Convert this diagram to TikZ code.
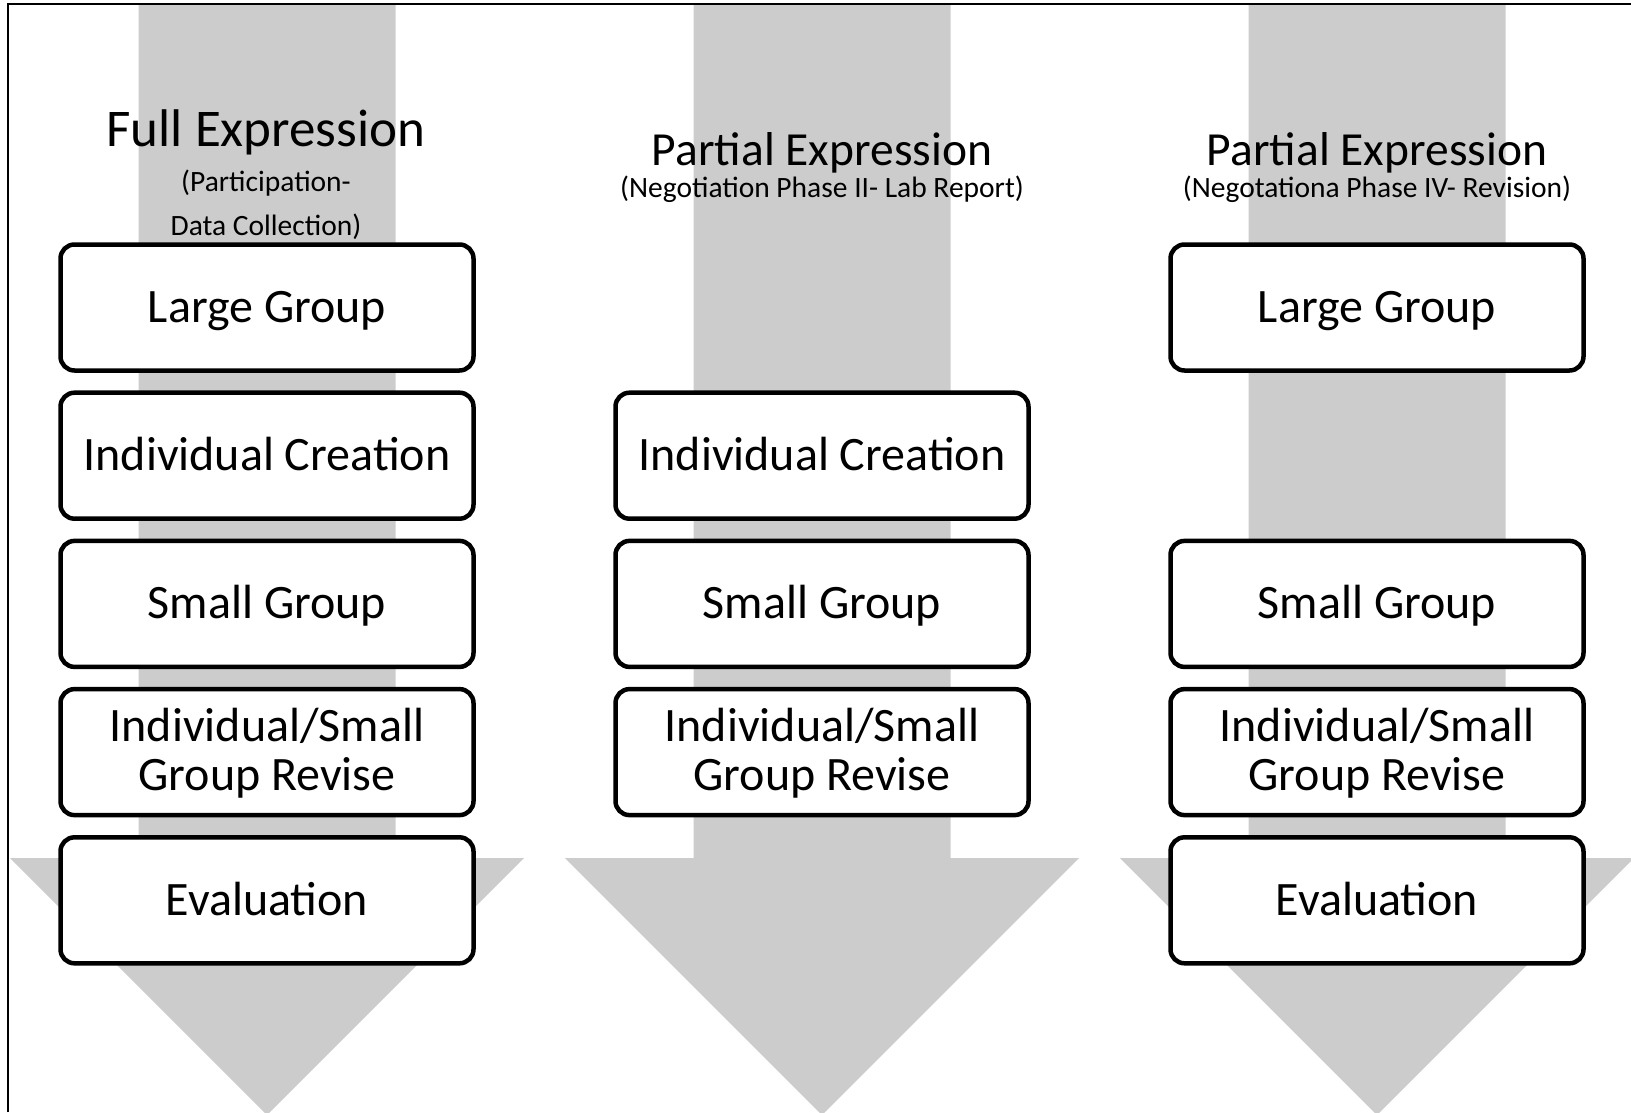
\documentclass[tikz,border=0pt]{standalone}
\usepackage{fontspec}
\setmainfont{Carlito}
\definecolor{arrowgray}{RGB}{204,204,204}
\tikzset{
  boxbase/.style={draw, line width=4.5pt, rounded corners=14pt, fill=white,
    minimum width=413pt, minimum height=126pt, inner sep=0pt,
    font=\fontsize{48}{49.5}\selectfont},
  stagebox/.style={boxbase, text height=36pt, text depth=6pt},
  stageboxtwo/.style={boxbase, text height=36pt, text depth=58pt},
  titletext/.style={anchor=base, inner sep=0pt, font=\fontsize{47.5}{56}\selectfont},
  fulltitle/.style={anchor=base, inner sep=0pt, font=\fontsize{53}{60}\selectfont},
  subtext/.style={anchor=base, inner sep=0pt, font=\fontsize{29.5}{34}\selectfont},
  bigarrow/.style={fill=arrowgray}
}
\newcommand{\twolines}[2]{\begin{tabular}[t]{@{}c@{}}#1\\#2\end{tabular}}
\begin{document}
\begin{tikzpicture}[x=1pt,y=-1pt]
\useasboundingbox (0,0) rectangle (1631,1112);
\begin{scope}
\clip (0,0) rectangle (1631,1112);
\foreach \c in {267,822,1377}{
  \fill[bigarrow] ({\c-128.5},4) -- ({\c+128.5},4) -- ({\c+128.5},858) -- ({\c+257},858)
    -- (\c,1115) -- ({\c-257},858) -- ({\c-128.5},858) -- cycle;
}
\end{scope}
\draw[line width=1.5pt] (8,1112) -- (8,4) -- (1631,4);

% titles
\node[fulltitle] (t1) at (266,146) {Full Expression};
\node[subtext] (s1a) at (266,191) {(Participation-};
\node[subtext] (s1b) at (266,235) {Data Collection)};
\node[titletext] (t2) at (822,165) {Partial Expression};
\node[subtext] (s2) at (822,197) {(Negotiation Phase II- Lab Report)};
\node[titletext] (t3) at (1377,165) {Partial Expression};
\node[subtext] (s3) at (1377,197) {(Negotationa Phase IV- Revision)};

% column 1
\node[stagebox] (a1) at (267,307.5) {Large Group};
\node[stagebox] (a2) at (267,455.7) {Individual Creation};
\node[stagebox] (a3) at (267,603.9) {Small Group};
\node[stageboxtwo] (a4) at (267,752.1) {\twolines{Individual/Small}{Group Revise}};
\node[stagebox] (a5) at (267,900.3) {Evaluation};
% column 2
\node[stagebox] (b2) at (822,455.7) {Individual Creation};
\node[stagebox] (b3) at (822,603.9) {Small Group};
\node[stageboxtwo] (b4) at (822,752.1) {\twolines{Individual/Small}{Group Revise}};
% column 3
\node[stagebox] (c1) at (1377,307.5) {Large Group};
\node[stagebox] (c3) at (1377,603.9) {Small Group};
\node[stageboxtwo] (c4) at (1377,752.1) {\twolines{Individual/Small}{Group Revise}};
\node[stagebox] (c5) at (1377,900.3) {Evaluation};
\end{tikzpicture}
\end{document}
